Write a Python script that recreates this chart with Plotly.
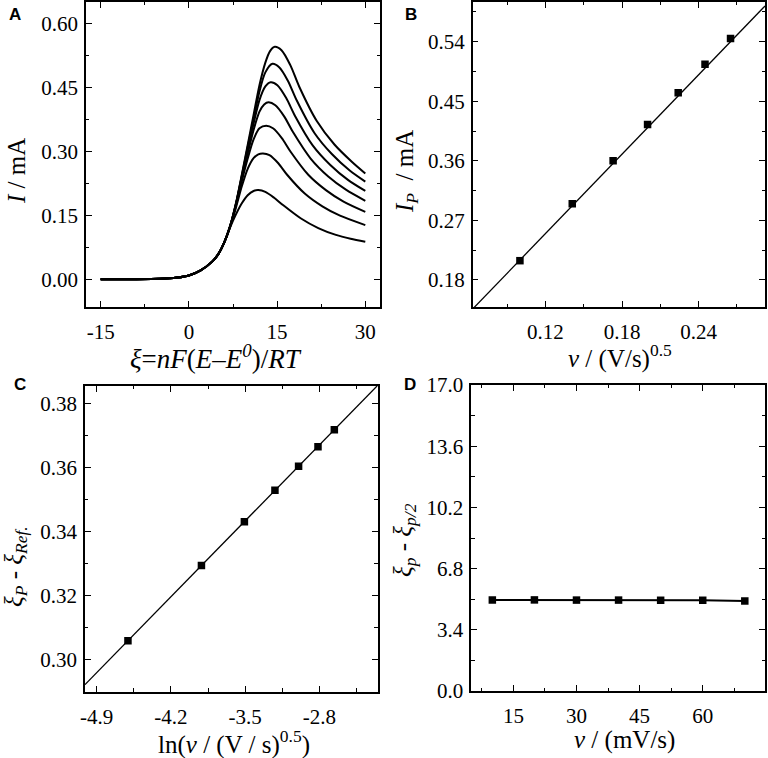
import plotly.graph_objects as go

W, H = 768, 758

# ---------------- Panel A data ----------------
foot_xi = [-15, -10, -5, -2, 0, 2, 4, 5, 6]
foot_I = [0.0, 0.0002, 0.001, 0.004, 0.009, 0.021, 0.042, 0.059, 0.086]

c1_xi = [7, 8, 9, 10, 11, 11.8, 13, 14.5, 16, 19, 22, 25, 27.5, 30]
c1_I = [0.121, 0.152, 0.178, 0.197, 0.207, 0.209, 0.205, 0.191, 0.174, 0.143, 0.120, 0.104, 0.095, 0.088]

c2_xi = [7, 8, 9, 10, 11, 11.8, 12.6, 13.7, 15.2, 16.7, 19.7, 22.7, 25.7, 30]
c2_I = [0.123, 0.168, 0.218, 0.259, 0.284, 0.293, 0.295, 0.291, 0.272, 0.245, 0.201, 0.171, 0.149, 0.127]

c3_xi = [7, 8, 9, 10, 11, 12, 13.15, 14.3, 15.8, 17.3, 20.3, 23.3, 26.3, 30]
c3_I = [0.124, 0.173, 0.230, 0.283, 0.328, 0.354, 0.360, 0.354, 0.331, 0.299, 0.245, 0.209, 0.182, 0.158]

c4_xi = [7, 8, 9, 10, 11, 12, 12.8, 13.55, 14.7, 16.2, 17.7, 20.7, 23.7, 26.7, 30]
c4_I = [0.124, 0.175, 0.236, 0.295, 0.350, 0.393, 0.410, 0.415, 0.408, 0.382, 0.345, 0.283, 0.241, 0.210, 0.184]

c5_xi = [7, 8, 9, 10, 11, 12, 13, 13.9, 15.05, 16.55, 18.05, 21.05, 24.05, 27.05, 30]
c5_I = [0.124, 0.176, 0.240, 0.303, 0.365, 0.420, 0.452, 0.462, 0.455, 0.425, 0.383, 0.314, 0.268, 0.233, 0.207]

c6_xi = [7, 8, 9, 10, 11, 12, 13, 14.2, 15.35, 16.85, 18.35, 21.35, 24.35, 27.35, 30]
c6_I = [0.124, 0.177, 0.243, 0.310, 0.375, 0.440, 0.485, 0.505, 0.497, 0.465, 0.419, 0.343, 0.293, 0.255, 0.229]

c7_xi = [7, 8, 9, 10, 11, 12, 13, 13.8, 14.6, 15.75, 17.25, 18.75, 21.75, 24.75, 27.75, 30]
c7_I = [0.124, 0.178, 0.245, 0.315, 0.385, 0.455, 0.508, 0.535, 0.545, 0.537, 0.502, 0.452, 0.371, 0.316, 0.275, 0.248]

a_xticks = [-15, 0, 15, 30]
a_xlabels = ['-15', '0', '15', '30']

# ---------------- Panel B data ----------------
b_v = [0.100, 0.141, 0.173, 0.200, 0.224, 0.245, 0.265]
b_Ip = [0.209, 0.295, 0.360, 0.415, 0.463, 0.506, 0.545]
b_fit_x = [0.063, 0.292]
b_fit_y = [0.136, 0.594]

# ---------------- Panel C data ----------------
c_lnv = [-4.605, -3.912, -3.507, -3.219, -2.996, -2.813, -2.659]
c_dxi = [0.3058, 0.3293, 0.3430, 0.3528, 0.3603, 0.3664, 0.3717]
c_fit_x = [-5.01, -2.25]
c_fit_y = [0.2921, 0.3856]
c_xticks = [-4.9, -4.2, -3.5, -2.8]
c_xlabels = ['-4.9', '-4.2', '-3.5', '-2.8']

# ---------------- Panel D data ----------------
d_v = [10, 20, 30, 40, 50, 60, 70]
d_dxi = [5.06, 5.06, 5.05, 5.05, 5.04, 5.04, 5.00]

fig = go.Figure()

curves = [(c1_xi, c1_I), (c2_xi, c2_I), (c3_xi, c3_I), (c4_xi, c4_I),
          (c5_xi, c5_I), (c6_xi, c6_I), (c7_xi, c7_I)]
for cx, cy in curves:
    fig.add_trace(go.Scatter(x=foot_xi + cx, y=foot_I + cy, mode='lines',
                             line=dict(color='black', width=2, shape='spline', smoothing=0.8),
                             xaxis='x', yaxis='y', showlegend=False))

fig.add_trace(go.Scatter(x=b_fit_x, y=b_fit_y, mode='lines', line=dict(color='black', width=1.3),
                         xaxis='x2', yaxis='y2', showlegend=False))
fig.add_trace(go.Scatter(x=b_v, y=b_Ip, mode='markers', marker=dict(symbol='square', size=7.5, color='black'),
                         xaxis='x2', yaxis='y2', showlegend=False))

fig.add_trace(go.Scatter(x=c_fit_x, y=c_fit_y, mode='lines', line=dict(color='black', width=1.3),
                         xaxis='x3', yaxis='y3', showlegend=False))
fig.add_trace(go.Scatter(x=c_lnv, y=c_dxi, mode='markers', marker=dict(symbol='square', size=7.5, color='black'),
                         xaxis='x3', yaxis='y3', showlegend=False))

fig.add_trace(go.Scatter(x=d_v, y=d_dxi, mode='lines+markers', line=dict(color='black', width=2),
                         marker=dict(symbol='square', size=7.5, color='black'),
                         xaxis='x4', yaxis='y4', showlegend=False))

SERIF = 'Liberation Serif'
TICKFONT = dict(family=SERIF, size=21, color='black')


def ax(domain, rng, tick0, dtick, mtick, fmt, anchor, is_x, vals=None, labels=None):
    d = dict(domain=domain, range=rng, tick0=tick0, dtick=dtick, tickformat=fmt,
             showline=True, linecolor='black', linewidth=1.5, mirror='ticks',
             ticks='inside', ticklen=6, tickwidth=1.4, tickcolor='black',
             showgrid=False, zeroline=False, tickfont=TICKFONT, anchor=anchor,
             automargin=False,
             minor=dict(ticks='inside', ticklen=3.5, tickwidth=1.2, tickcolor='black',
                        tick0=tick0, dtick=mtick, showgrid=False))
    if vals is not None:
        d['tickmode'] = 'array'
        d['tickvals'] = vals
        d['ticktext'] = labels
    d['ticklabelstandoff'] = 5 if is_x else 2
    return d


def xd(p0, p1):
    return [p0 / W, p1 / W]


def yd(top, bottom):
    return [1 - bottom / H, 1 - top / H]


fig.update_layout(
    width=W, height=H, margin=dict(l=0, r=0, t=0, b=0, autoexpand=False),
    paper_bgcolor='white', plot_bgcolor='white',
    font=dict(family=SERIF, color='black'),
    xaxis=ax(xd(86, 380), [-17.5, 32.5], -15, 15, 7.5, 'd', 'y', True, a_xticks, a_xlabels),
    yaxis=ax(yd(2, 307), [-0.065, 0.65], 0, 0.15, 0.075, '.2f', 'x', False),
    xaxis2=ax(xd(472.7, 765), [0.063, 0.292], 0.12, 0.06, 0.03, '.2f', 'y2', True),
    yaxis2=ax(yd(2, 307), [0.139, 0.60], 0.18, 0.09, 0.045, '.2f', 'x2', False),
    xaxis3=ax(xd(85, 377.7), [-5.01, -2.25], -4.9, 0.7, 0.35, '.1f', 'y3', True, c_xticks, c_xlabels),
    yaxis3=ax(yd(386, 691.7), [0.2899, 0.3854], 0.30, 0.02, 0.01, '.2f', 'x3', False),
    xaxis4=ax(xd(471.3, 765), [5, 74.8], 15, 15, 7.5, 'd', 'y4', True),
    yaxis4=ax(yd(385, 691), [-0.001, 17.001], 0, 3.4, 1.7, '.1f', 'x4', False),
)

TF = dict(family=SERIF, size=25, color='black')
TF_BIG = dict(family=SERIF, size=27, color='black')
LF = dict(family='Liberation Sans', size=17, color='black')


def ann(text, px, py, font, angle=0):
    fig.add_annotation(text=text, x=px / W, y=1 - py / H, xref='paper', yref='paper',
                       xanchor='center', yanchor='middle', showarrow=False,
                       font=font, textangle=angle)


ann('<b>A</b>', 15, 14, LF)
ann('<b>B</b>', 411, 14, LF)
ann('<b>C</b>', 20, 384, LF)
ann('<b>D</b>', 410, 384, LF)

ann('<i>I</i> / mA', 16, 171, TF, -90)
ann('<i>ξ</i>=<i>nF</i>(<i>E</i>–<i>E</i><sup><i>0</i></sup>)/<i>RT</i>', 216, 357, TF_BIG)
ann('<i>I<sub>P</sub></i>  / mA', 407, 172, TF, -90)
ann('<i>ν</i> / (V/s)<sup>0.5</sup>', 620, 357, TF)
ann('<i>ξ<sub>P</sub></i> - <i>ξ<sub>Ref.</sub></i>', 15, 567, TF, -90)
ann('ln(<i>ν</i> / (V / s)<sup>0.5</sup>)', 234, 742, TF)
ann('<i>ξ<sub>p</sub></i> - <i>ξ<sub>p/2</sub></i>', 404, 540, TF, -90)
ann('<i>ν</i> / (mV/s)', 624, 740, TF)

fig.write_html('out.html', config={'displayModeBar': False},
               post_script="document.body.style.margin='0';document.body.style.overflow='hidden';")
